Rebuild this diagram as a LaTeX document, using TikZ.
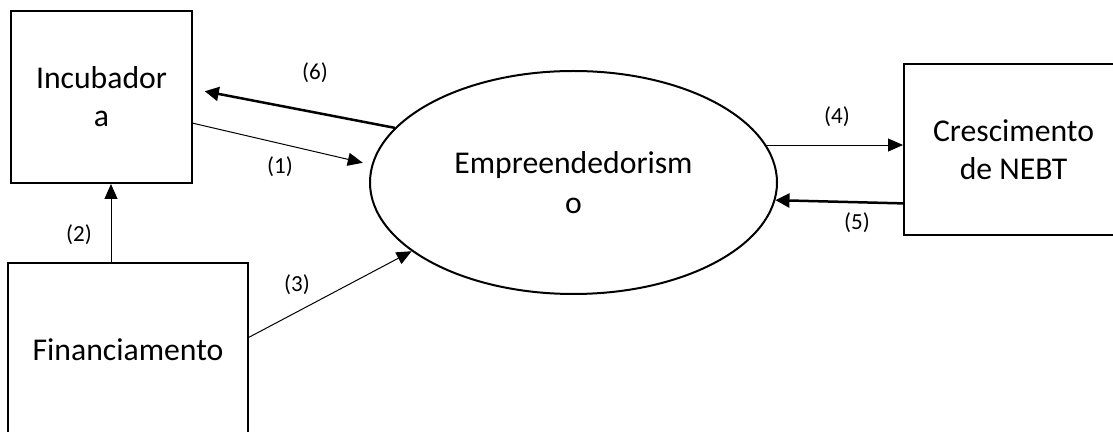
\documentclass[tikz,border=0pt]{standalone}
\usepackage{fontspec}
\setmainfont{Carlito}
\usetikzlibrary{arrows.meta,shapes.geometric}

\begin{document}
\begin{tikzpicture}[x=0.5pt,y=-0.5pt,
    box/.style={draw,line width=1pt,inner sep=0pt,align=center,font=\fontsize{15.85}{19}\selectfont},
    ell/.style={ellipse,draw,line width=1pt,inner sep=0pt,align=center,font=\fontsize{15.85}{20}\selectfont},
    lbl/.style={inner sep=0pt,font=\fontsize{11.5}{13}\selectfont},
    arr/.style={line width=0.5pt,-{Triangle[length=7.5pt,width=6.5pt]}},
    arrbold/.style={line width=1.25pt,-{Triangle[length=7pt,width=7pt]}}]
    \useasboundingbox (0,0) rectangle (1113,432);
    \clip (0,0) rectangle (1113,432);
    \node[box,minimum width=90.5pt,minimum height=86pt] (inc) at (101.5,97) {Incubador\\a};
    \node[box,minimum width=120pt,minimum height=87pt] (fin) at (128,350) {Financiamento};
    \node[ell,minimum width=203.5pt,minimum height=111.5pt] (emp) at (573.5,182.5) {Empreendedorism\\o};
    \node[box,minimum width=109.5pt,minimum height=85.5pt] (cre) at (1013.5,149.5) {Crescimento\\de NEBT};
    \draw[arrbold,shorten >=6pt] (emp.163.7) -- (inc.5.05);
    \draw[arr,shorten >=4.5pt] (inc.-16.6) -- (emp.175.5);
    \draw[arr] ([xshift=-8.5pt]fin.north) -- ([xshift=-8.5pt]fin.north |- inc.south);
    \draw[arr] (fin.6.1) -- (emp.203.4);
    \draw[arr] (emp.11.25) -- (emp.11.25 -| cre.west);
    \draw[arrbold] (cre.206.04) -- (emp.-5.87);
    \node[lbl] (l1) at (280,167) {(1)};
    \node[lbl] (l2) at (79,235) {(2)};
    \node[lbl] (l3) at (297,285) {(3)};
    \node[lbl] (l4) at (837,117) {(4)};
    \node[lbl] (l5) at (857,223) {(5)};
    \node[lbl] (l6) at (315,73) {(6)};
\end{tikzpicture}
\end{document}
